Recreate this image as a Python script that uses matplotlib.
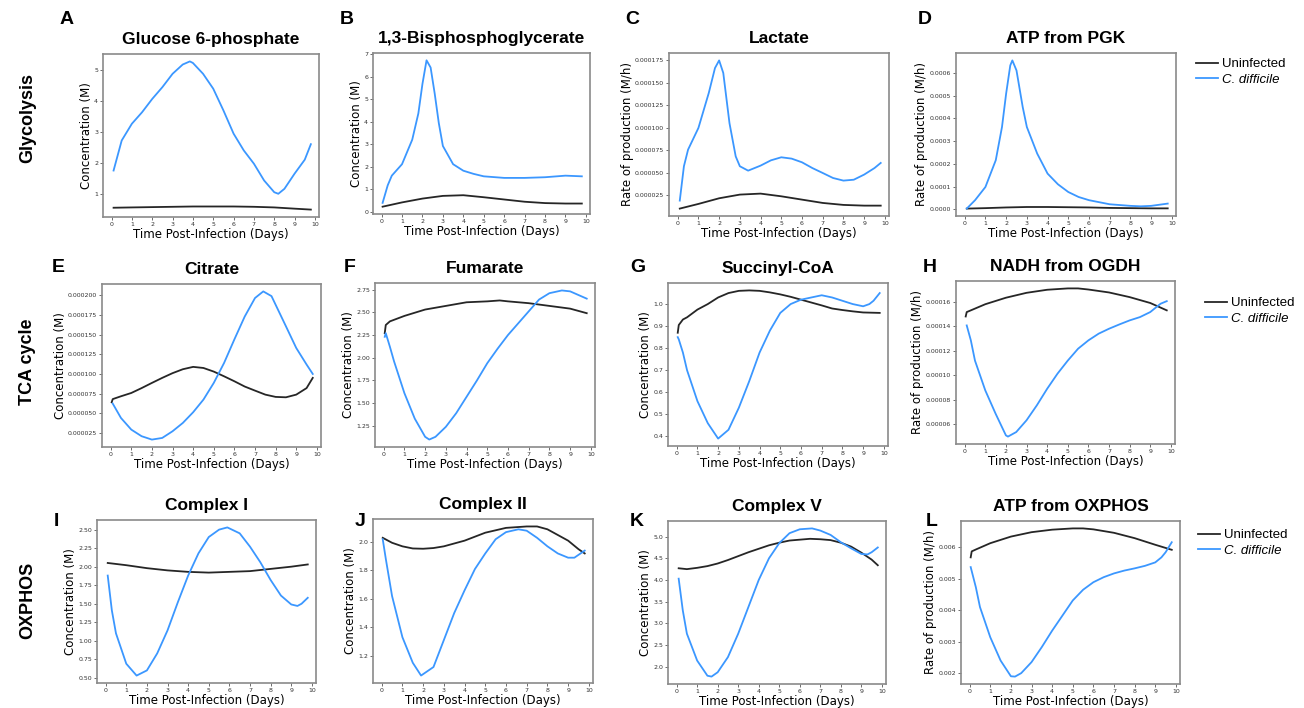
import matplotlib
matplotlib.use("Agg")
import matplotlib.pyplot as plt
from matplotlib.ticker import MultipleLocator, FormatStrFormatter

# ---- data (days post-infection) ----
# A  Glucose 6-phosphate
a_x_inf = [0.1, 0.5, 1, 1.5, 2, 2.5, 3, 3.5, 3.85, 4, 4.5, 5, 5.5, 6, 6.5, 7, 7.5, 8, 8.2, 8.5, 9, 9.5, 9.8]
a_inf = [1.75, 2.72, 3.26, 3.63, 4.06, 4.44, 4.87, 5.17, 5.27, 5.22, 4.87, 4.39, 3.69, 2.94, 2.4, 1.97, 1.43, 1.05, 1.0, 1.16, 1.65, 2.1, 2.6]
a_x_un = [0.1, 1, 2, 3, 4, 5, 6, 7, 8, 9, 9.8]
a_un = [0.55, 0.56, 0.57, 0.58, 0.59, 0.59, 0.59, 0.58, 0.56, 0.52, 0.49]

# B  1,3-Bisphosphoglycerate
b_x_inf = [0.05, 0.3, 0.5, 1, 1.5, 1.8, 2, 2.2, 2.4, 2.6, 2.8, 3, 3.5, 4, 4.5, 5, 6, 7, 8, 9, 9.8]
b_inf = [0.39, 1.17, 1.6, 2.11, 3.2, 4.37, 5.68, 6.73, 6.41, 5.25, 3.94, 2.92, 2.11, 1.82, 1.68, 1.57, 1.5, 1.5, 1.53, 1.6, 1.57]
b_x_un = [0.05, 1, 2, 3, 4, 5, 6, 7, 8, 9, 9.8]
b_un = [0.22, 0.41, 0.58, 0.7, 0.73, 0.64, 0.54, 0.44, 0.38, 0.36, 0.36]

# C  Lactate (x 1e-5)
c_x_inf = [0.1, 0.3, 0.5, 1, 1.5, 1.8, 2, 2.2, 2.5, 2.8, 3, 3.4, 4, 4.5, 5, 5.5, 6, 6.5, 7, 7.5, 8, 8.5, 9, 9.5, 9.8]
c_inf = [1.87, 5.7, 7.55, 9.97, 13.87, 16.65, 17.5, 16.1, 10.5, 6.8, 5.7, 5.21, 5.77, 6.36, 6.7, 6.55, 6.14, 5.5, 4.95, 4.39, 4.1, 4.2, 4.77, 5.5, 6.07]
c_x_un = [0.1, 1, 2, 3, 4, 5, 6, 7, 8, 9, 9.8]
c_un = [0.98, 1.5, 2.13, 2.54, 2.65, 2.35, 1.98, 1.61, 1.39, 1.31, 1.31]

# D  ATP from PGK (x 1e-4)
d_x_inf = [0.1, 0.5, 1, 1.5, 1.8, 2, 2.2, 2.3, 2.5, 2.8, 3, 3.5, 4, 4.5, 5, 5.5, 6, 7, 8, 8.5, 9, 9.8]
d_inf = [0.03, 0.4, 0.98, 2.16, 3.62, 5.09, 6.33, 6.55, 6.11, 4.5, 3.62, 2.45, 1.57, 1.1, 0.76, 0.54, 0.4, 0.22, 0.15, 0.13, 0.15, 0.25]
d_x_un = [0.1, 1, 2, 3, 4, 5, 6, 7, 8, 9, 9.8]
d_un = [0.03, 0.05, 0.08, 0.1, 0.1, 0.09, 0.08, 0.06, 0.05, 0.04, 0.04]

# E  Citrate (x 1e-5)
e_x_inf = [0.1, 0.5, 1, 1.5, 2, 2.5, 3, 3.5, 4, 4.5, 5, 5.5, 6, 6.5, 7, 7.4, 7.8, 8, 8.5, 9, 9.5, 9.8]
e_inf = [6.23, 4.4, 2.92, 2.08, 1.65, 1.86, 2.71, 3.77, 5.13, 6.74, 8.86, 11.4, 14.4, 17.3, 19.66, 20.5, 19.9, 18.8, 16.06, 13.3, 11.2, 10.0]
e_x_un = [0.05, 0.1, 0.5, 1, 1.5, 2, 2.5, 3, 3.5, 4, 4.5, 5, 5.5, 6, 6.5, 7, 7.5, 8, 8.5, 9, 9.5, 9.8]
e_un = [6.4, 6.8, 7.16, 7.58, 8.2, 8.86, 9.5, 10.1, 10.6, 10.9, 10.76, 10.3, 9.7, 9.07, 8.4, 7.88, 7.37, 7.08, 7.03, 7.37, 8.2, 9.5]

# F  Fumarate
f_x_inf = [0.05, 0.1, 0.3, 0.5, 1, 1.5, 2, 2.2, 2.5, 3, 3.5, 4, 4.5, 5, 5.5, 6, 6.5, 7, 7.5, 8, 8.6, 9, 9.5, 9.8]
f_inf = [2.23, 2.27, 2.12, 1.96, 1.61, 1.33, 1.13, 1.10, 1.13, 1.24, 1.39, 1.57, 1.75, 1.94, 2.1, 2.25, 2.38, 2.51, 2.64, 2.71, 2.74, 2.73, 2.68, 2.65]
f_x_un = [0.05, 0.1, 0.3, 1, 2, 3, 4, 5, 5.6, 6, 7, 8, 9, 9.8]
f_un = [2.27, 2.36, 2.4, 2.46, 2.53, 2.57, 2.61, 2.62, 2.63, 2.62, 2.6, 2.57, 2.54, 2.49]

# G  Succinyl-CoA
g_x_inf = [0.05, 0.1, 0.3, 0.5, 1, 1.5, 2, 2.5, 3, 3.5, 4, 4.5, 5, 5.5, 6, 6.5, 7, 7.5, 8, 8.5, 9, 9.3, 9.5, 9.8]
g_inf = [0.85, 0.84, 0.78, 0.70, 0.56, 0.46, 0.39, 0.43, 0.53, 0.65, 0.78, 0.88, 0.96, 1.0, 1.02, 1.03, 1.04, 1.03, 1.015, 1.0, 0.99, 1.0, 1.015, 1.05]
g_x_un = [0.05, 0.1, 0.3, 0.5, 1, 1.5, 2, 2.5, 3, 3.5, 4, 4.5, 5, 5.5, 6, 6.5, 7, 7.5, 8, 8.5, 9, 9.8]
g_un = [0.87, 0.905, 0.93, 0.94, 0.975, 1.0, 1.03, 1.05, 1.06, 1.062, 1.06, 1.053, 1.044, 1.033, 1.02, 1.007, 0.994, 0.98, 0.973, 0.967, 0.962, 0.96]

# H  NADH from OGDH (x 1e-5)
h_x_inf = [0.1, 0.3, 0.5, 1, 1.5, 2, 2.1, 2.5, 3, 3.5, 4, 4.5, 5, 5.5, 6, 6.5, 7, 7.5, 8, 8.5, 9, 9.3, 9.5, 9.8]
h_inf = [14.07, 12.85, 11.2, 8.77, 6.87, 5.1, 5.0, 5.37, 6.33, 7.55, 8.9, 10.13, 11.2, 12.17, 12.85, 13.4, 13.8, 14.15, 14.48, 14.75, 15.16, 15.57, 15.84, 16.05]
h_x_un = [0.05, 0.1, 0.3, 1, 2, 3, 4, 5, 5.5, 6, 7, 8, 9, 9.8]
h_un = [14.8, 15.16, 15.3, 15.8, 16.33, 16.73, 16.98, 17.09, 17.09, 17.0, 16.76, 16.38, 15.9, 15.3]

# I  Complex I
i_x_inf = [0.1, 0.3, 0.5, 1, 1.5, 2, 2.5, 3, 3.5, 4, 4.5, 5, 5.5, 5.9, 6.5, 7, 7.5, 8, 8.5, 9, 9.3, 9.5, 9.8]
i_inf = [1.88, 1.41, 1.1, 0.69, 0.53, 0.6, 0.83, 1.14, 1.52, 1.88, 2.18, 2.4, 2.5, 2.53, 2.45, 2.27, 2.06, 1.82, 1.61, 1.49, 1.47, 1.5, 1.58]
i_x_un = [0.1, 1, 2, 3, 4, 5, 6, 7, 8, 9, 9.8]
i_un = [2.05, 2.02, 1.98, 1.95, 1.93, 1.92, 1.93, 1.94, 1.97, 2.0, 2.03]

# J  Complex II
j_x_inf = [0.05, 0.2, 0.5, 1, 1.5, 1.9, 2.5, 3, 3.5, 4, 4.5, 5, 5.5, 6, 6.6, 7, 7.5, 8, 8.5, 9, 9.3, 9.5, 9.8]
j_inf = [2.02, 1.88, 1.62, 1.33, 1.15, 1.06, 1.12, 1.31, 1.5, 1.66, 1.81, 1.92, 2.02, 2.07, 2.09, 2.08, 2.03, 1.97, 1.92, 1.89, 1.89, 1.91, 1.94]
j_x_un = [0.05, 0.5, 1, 1.5, 2, 2.5, 3, 4, 5, 6, 7, 7.5, 8, 8.5, 9, 9.5, 9.8]
j_un = [2.03, 1.995, 1.97, 1.955, 1.953, 1.958, 1.97, 2.01, 2.066, 2.1, 2.11, 2.11, 2.09, 2.05, 2.01, 1.95, 1.92]

# K  Complex V
k_x_inf = [0.1, 0.3, 0.5, 1, 1.5, 1.7, 2, 2.5, 3, 3.5, 4, 4.5, 5, 5.5, 6, 6.6, 7, 7.5, 8, 8.5, 9, 9.3, 9.5, 9.8]
k_inf = [4.03, 3.3, 2.76, 2.14, 1.79, 1.77, 1.87, 2.22, 2.76, 3.38, 4.0, 4.5, 4.85, 5.08, 5.17, 5.19, 5.14, 5.04, 4.87, 4.73, 4.6, 4.59, 4.64, 4.75]
k_x_un = [0.1, 0.5, 1, 1.5, 2, 2.5, 3, 3.5, 4, 4.5, 5, 5.5, 6, 6.5, 7, 7.5, 8, 8.5, 9, 9.5, 9.8]
k_un = [4.27, 4.25, 4.28, 4.32, 4.38, 4.46, 4.55, 4.64, 4.72, 4.8, 4.86, 4.91, 4.93, 4.95, 4.94, 4.92, 4.86, 4.77, 4.63, 4.47, 4.34]

# L  ATP from OXPHOS (x 1e-3)
l_x_inf = [0.05, 0.3, 0.5, 1, 1.5, 2, 2.2, 2.5, 3, 3.5, 4, 4.5, 5, 5.5, 6, 6.5, 7, 7.5, 8, 8.5, 9, 9.3, 9.5, 9.8]
l_inf = [5.37, 4.73, 4.1, 3.14, 2.4, 1.9, 1.89, 2.0, 2.35, 2.83, 3.35, 3.83, 4.31, 4.65, 4.89, 5.05, 5.17, 5.26, 5.33, 5.41, 5.52, 5.68, 5.84, 6.16]
l_x_un = [0.05, 0.1, 0.3, 1, 2, 3, 4, 5, 5.5, 6, 7, 8, 9, 9.8]
l_un = [5.68, 5.87, 5.93, 6.13, 6.34, 6.48, 6.56, 6.6, 6.6, 6.57, 6.46, 6.29, 6.08, 5.92]

titles = ["Glucose 6-phosphate", "1,3-Bisphosphoglycerate", "Lactate", "ATP from PGK",
          "Citrate", "Fumarate", "Succinyl-CoA", "NADH from OGDH",
          "Complex I", "Complex II", "Complex V", "ATP from OXPHOS"]
letters = list("ABCDEFGHIJKL")
conc = "Concentration (M)"
rate = "Rate of production (M/h)"
ylabels = [conc, conc, rate, rate, conc, conc, conc, rate, conc, conc, conc, rate]
row_names = ["Glycolysis", "TCA cycle", "OXPHOS"]

series = [
    (a_x_un, a_un, a_x_inf, a_inf, 1),
    (b_x_un, b_un, b_x_inf, b_inf, 1),
    (c_x_un, c_un, c_x_inf, c_inf, 1e-5),
    (d_x_un, d_un, d_x_inf, d_inf, 1e-4),
    (e_x_un, e_un, e_x_inf, e_inf, 1e-5),
    (f_x_un, f_un, f_x_inf, f_inf, 1),
    (g_x_un, g_un, g_x_inf, g_inf, 1),
    (h_x_un, h_un, h_x_inf, h_inf, 1e-5),
    (i_x_un, i_un, i_x_inf, i_inf, 1),
    (j_x_un, j_un, j_x_inf, j_inf, 1),
    (k_x_un, k_un, k_x_inf, k_inf, 1),
    (l_x_un, l_un, l_x_inf, l_inf, 1e-3),
]

# tick spacing and format for each panel
ystep = [1, 1, 2.5e-5, 1e-4, 2.5e-5, 0.25, 0.1, 2e-5, 0.25, 0.2, 0.5, 1e-3]
yfmt = ["%d", "%d", "%.6f", "%.4f", "%.6f", "%.2f", "%.1f", "%.5f", "%.2f", "%.1f", "%.1f", "%.3f"]

# frame boxes in pixels: left, right, top, bottom
boxes = [(103, 319, 54, 217), (373, 590, 53, 214), (669, 889, 53, 216), (956, 1176, 53, 216),
         (102, 321, 284, 447), (375, 595, 283, 447), (668, 888, 283, 446), (956, 1175, 281, 444),
         (97, 316, 520, 683), (373, 593, 519, 683), (668, 886, 521, 684), (961, 1180, 521, 684)]
letter_pos = [(67, 20), (347, 20), (632, 20), (925, 20),
              (58, 268), (350, 268), (638, 268), (930, 268),
              (56, 522), (360, 522), (637, 522), (932, 522)]
legend_pos = [(1196, 58), (1205, 297), (1198, 529)]

W, H = 1304, 708
BLACK = "#262626"
BLUE = "#3b97ff"

fig = plt.figure(figsize=(W / 100, H / 100), dpi=100)

for n in range(12):
    l, r, t, b = boxes[n]
    ax = fig.add_axes([l / W, 1 - b / H, (r - l) / W, (b - t) / H])
    xu, yu, xi, yi, sc = series[n]
    ax.plot(xu, [v * sc for v in yu], color=BLACK, lw=1.3, label="Uninfected")
    ax.plot(xi, [v * sc for v in yi], color=BLUE, lw=1.3, label="C. difficile")
    ax.set_xlim(-0.42, 10.2)
    ax.xaxis.set_major_locator(MultipleLocator(1))
    ax.yaxis.set_major_locator(MultipleLocator(ystep[n]))
    ax.yaxis.set_major_formatter(FormatStrFormatter(yfmt[n]))
    ax.tick_params(labelsize=4.5, length=2, width=0.6, pad=1.5, colors="#555555", labelcolor="#333333")
    for sp in ax.spines.values():
        sp.set_color("#8a8a8a")
        sp.set_linewidth(1.2)
    ax.set_xlabel("Time Post-Infection (Days)", fontsize=8.5, labelpad=0.5)
    ax.set_ylabel(ylabels[n], fontsize=8.5, labelpad=1)
    ax.set_title(titles[n], fontsize=12.5, fontweight="bold", family="Liberation Sans", pad=7)
    fig.text(letter_pos[n][0] / W, 1 - letter_pos[n][1] / H, letters[n], fontsize=14,
             fontweight="bold", family="Liberation Sans", ha="center", va="center")
    if n % 4 == 3:
        lx, ly = legend_pos[n // 4]
        leg = ax.legend(loc="upper left", bbox_to_anchor=(lx / W, 1 - ly / H),
                        bbox_transform=fig.transFigure, frameon=False, borderpad=0,
                        borderaxespad=0, handlelength=1.7, handletextpad=0.3,
                        labelspacing=0.25, prop={"family": "Liberation Sans", "size": 9.5})
        leg.get_texts()[1].set_style("italic")

for k, name in enumerate(row_names):
    yc = [118, 362, 600][k]
    fig.text(28 / W, 1 - yc / H, name, rotation=90, fontsize=13, fontweight="bold",
             family="Liberation Sans", ha="center", va="center")

fig.savefig("out.png", dpi=100)
